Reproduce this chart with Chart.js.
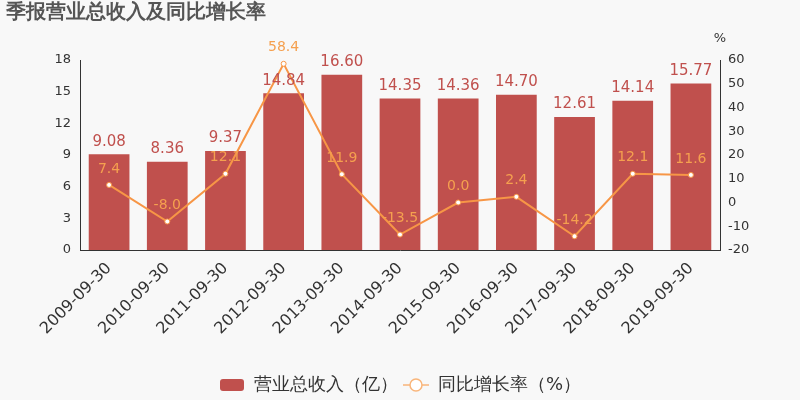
<!DOCTYPE html>
<html><head><meta charset="utf-8">
<script src="https://cdn.jsdelivr.net/npm/chart.js@4/dist/chart.umd.min.js"></script>
<style>html,body{margin:0;padding:0;background:#f8f8f8;}#wrap{width:800px;height:400px;position:relative;}</style>
</head><body><div id="wrap"><canvas id="c" width="800" height="400"></canvas></div>
<script>
const categories = ['2009-09-30','2010-09-30','2011-09-30','2012-09-30','2013-09-30','2014-09-30','2015-09-30','2016-09-30','2017-09-30','2018-09-30','2019-09-30'];
const revenue = [9.08, 8.36, 9.37, 14.84, 16.60, 14.35, 14.36, 14.70, 12.61, 14.14, 15.77];
const growth = [7.4, -8.0, 12.1, 58.4, 11.9, -13.5, 0.0, 2.4, -14.2, 12.1, 11.6];
const revenueName = '营业总收入（亿）';
const growthName = '同比增长率（%）';
const titleText = '季报营业总收入及同比增长率';

const FONT = "'DejaVu Sans', sans-serif";
const BAR = '#c0504d';
const LINE = '#f79646';
const LINE_LABEL = '#f5a04f';

function legendIcon(kind){
  const cv = document.createElement('canvas');
  cv.width = 26; cv.height = 16;
  const g = cv.getContext('2d');
  if(kind==='bar'){
    g.fillStyle = BAR;
    g.beginPath(); g.roundRect(1,2,24,12,3); g.fill();
  } else {
    g.strokeStyle = '#f9b57a'; g.lineWidth = 1.5;
    g.beginPath(); g.moveTo(0,8); g.lineTo(26,8); g.stroke();
    g.fillStyle = '#fff'; g.beginPath(); g.arc(13,8,6,0,Math.PI*2); g.fill(); g.stroke();
  }
  return cv;
}

const labelPlugin = {
  id:'labels',
  beforeLayout(chart){
    const lg = chart.legend;
    if(lg && !lg._patched){
      const orig = lg.fit;
      lg.fit = function(){ orig.call(this); this.height = 29; };
      lg._patched = true;
    }
  },
  afterDatasetsDraw(chart){
    const ctx = chart.ctx;
    ctx.save();
    ctx.textAlign='center'; ctx.textBaseline='bottom';
    const m0 = chart.getDatasetMeta(0), m1 = chart.getDatasetMeta(1);
    ctx.font = "15px " + FONT; ctx.fillStyle = BAR;
    m0.data.forEach((el,i)=>{ ctx.fillText(revenue[i].toFixed(2), el.x, el.y-5); });
    ctx.font = "14px " + FONT; ctx.fillStyle = LINE_LABEL;
    m1.data.forEach((el,i)=>{ ctx.fillText(growth[i].toFixed(1), el.x, el.y-9); });
    ctx.textAlign='left'; ctx.textBaseline='middle';
    ctx.font = "bold 20px " + FONT; ctx.fillStyle = '#555';
    ctx.fillText(titleText, 6, 13);
    ctx.font = "13px " + FONT; ctx.fillStyle = '#333'; ctx.textAlign='center';
    ctx.fillText('%', 720, 39);
    ctx.restore();
  }
};

new Chart(document.getElementById('c'), {
  data:{
    labels: categories,
    datasets:[
      {type:'bar', label:revenueName, data:revenue, backgroundColor:BAR, yAxisID:'y', order:2,
       categoryPercentage:0.7, barPercentage:1.0},
      {type:'line', label:growthName, data:growth, borderColor:LINE, borderWidth:2, yAxisID:'y1', order:1,
       pointRadius:2.5, pointBackgroundColor:'#fff', pointBorderColor:LINE, pointBorderWidth:1, tension:0}
    ]
  },
  options:{
    responsive:false, animation:false,
    layout:{padding:{top:60, left:0, right:0, bottom:0}},
    plugins:{
      tooltip:{enabled:false},
      legend:{position:'bottom', labels:{
        usePointStyle:true, pointStyleWidth:26, font:{size:18, family:FONT}, color:'#333', padding:5,
        generateLabels(chart){
          return [
            {text:revenueName, pointStyle:legendIcon('bar'), fillStyle:BAR, strokeStyle:BAR, lineWidth:0, datasetIndex:0, fontColor:'#333'},
            {text:growthName, pointStyle:legendIcon('line'), fillStyle:'#fff', strokeStyle:LINE, lineWidth:0, datasetIndex:1, fontColor:'#333'}
          ];
        }
      }}
    },
    scales:{
      x:{
        grid:{display:false, drawTicks:true, tickLength:6, color:'#333'},
        border:{display:true, color:'#333', width:1},
        ticks:{font:{size:16, family:FONT}, color:'#333', minRotation:45, maxRotation:45, autoSkip:false},
        afterFit(s){ s.height = 121; }
      },
      y:{
        position:'left', min:0, max:18,
        grid:{display:false, drawOnChartArea:false, drawTicks:true, tickLength:5, color:'#333'},
        border:{display:true, color:'#333', width:1},
        ticks:{stepSize:3, font:{size:13, family:FONT}, color:'#333', padding:4},
        afterFit(s){ s.width = 80; }
      },
      y1:{
        position:'right', min:-20, max:60,
        grid:{display:false, drawOnChartArea:false, drawTicks:true, tickLength:5, color:'#333'},
        border:{display:true, color:'#333', width:1},
        ticks:{stepSize:10, font:{size:13, family:FONT}, color:'#333', padding:3},
        afterFit(s){ s.width = 80; }
      }
    }
  },
  plugins:[labelPlugin]
});
</script></body></html>
